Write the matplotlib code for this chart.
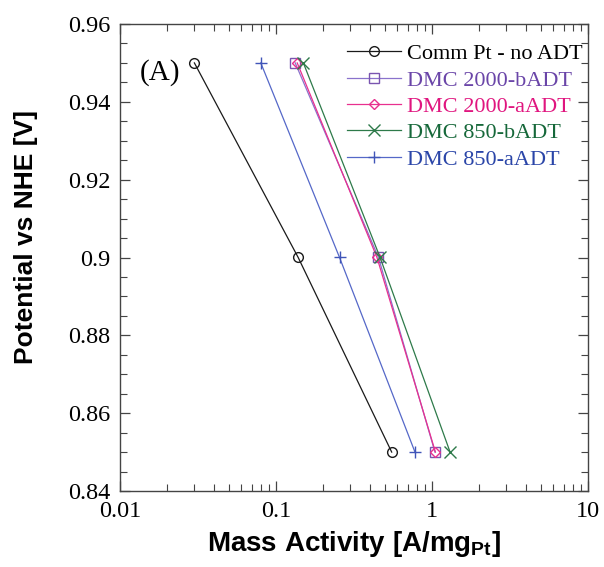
import matplotlib
matplotlib.use("Agg")
import matplotlib.pyplot as plt
from matplotlib.ticker import LogLocator, MultipleLocator, FixedLocator, NullFormatter, FuncFormatter

plt.rcParams['mathtext.fontset'] = 'custom'
plt.rcParams['mathtext.rm'] = 'Liberation Sans'
plt.rcParams['mathtext.bf'] = 'Liberation Sans:bold'

potential = [0.95, 0.90, 0.85]
comm_pt = [0.030, 0.139, 0.553]
dmc2000_b = [0.133, 0.455, 1.048]
dmc2000_a = [0.137, 0.445, 1.055]
dmc850_b = [0.150, 0.466, 1.31]
dmc850_a = [0.080, 0.256, 0.780]

labels = ["Comm Pt - no ADT", "DMC 2000-bADT", "DMC 2000-aADT", "DMC 850-bADT", "DMC 850-aADT"]

series = [
    (comm_pt, 'o', '#1a1a1a', '#1a1a1a', '#000000'),
    (dmc2000_b, 's', '#8a72cc', '#7a55b0', '#6a45a8'),
    (dmc2000_a, 'D', '#e8308f', '#e8308f', '#e0157f'),
    (dmc850_b, 'x', '#2e7a4a', '#2e7a4a', '#16683a'),
    (dmc850_a, '+', '#5568c8', '#4055b8', '#2a45a8'),
]
msizes = {'o': 7, 's': 7, 'D': 5, 'x': 8, '+': 8}

W, H = 604, 567
fig = plt.figure(figsize=(W / 100, H / 100), dpi=100)
ax = fig.add_axes([120 / W, 1 - 491 / H, (587.7 - 120) / W, (491 - 24) / H])

handles = []
for (vals, m, lc, mc, tc), lab in zip(series, labels):
    h, = ax.plot(vals, potential, color=lc, lw=0.9, marker=m, ms=msizes[m],
                 mfc='none', mec=mc, mew=1.0, label=lab)
    handles.append(h)

ax.set_xscale('log')
ax.set_xlim(0.01, 10)
ax.set_ylim(0.84, 0.96)
ax.xaxis.set_major_locator(FixedLocator([0.01, 0.1, 1, 10]))
ax.xaxis.set_major_formatter(FuncFormatter(lambda v, p: f"{v:g}"))
ax.xaxis.set_minor_locator(LogLocator(base=10, subs=range(2, 10)))
ax.xaxis.set_minor_formatter(NullFormatter())
ax.yaxis.set_major_locator(MultipleLocator(0.02))
ax.yaxis.set_minor_locator(MultipleLocator(0.005))
ax.yaxis.set_major_formatter(FuncFormatter(lambda v, p: f"{v:g}"))

for s in ax.spines.values():
    s.set_color('#444444')
    s.set_linewidth(1.0)

ax.tick_params(which='both', direction='in', top=True, right=True, color='#444444')
ax.tick_params(which='major', length=7.5, width=0.9, labelsize=17.5, pad=7)
ax.tick_params(which='minor', length=5, width=0.8)
for t in ax.get_xticklabels() + ax.get_yticklabels():
    t.set_fontfamily('Liberation Serif')

ax.set_ylabel('Potential vs NHE [V]', fontsize=19, fontweight='bold',
              fontfamily='Liberation Sans')
ax.yaxis.set_label_coords((38 - 120) / 467.7, (491 - 237) / 467)
ax.set_xlabel(r'Mass Activity [A/mg$_{\mathbf{Pt}}$]', fontsize=20, fontweight='bold',
              fontfamily='Liberation Sans', labelpad=5)

fig.text(160 / W, 1 - 73 / H, '(A)', fontsize=21, fontfamily='Liberation Serif',
         ha='center', va='center')

leg = ax.legend(handles=handles, loc='upper left', bbox_to_anchor=(0.485, 0.958),
                frameon=False, prop={'family': 'Liberation Serif', 'size': 16},
                handlelength=2.45, handletextpad=0.25, labelspacing=0.26,
                borderpad=0, borderaxespad=0, numpoints=1)
for txt, s in zip(leg.get_texts(), series):
    txt.set_color(s[4])

fig.savefig('out.png', dpi=100)
